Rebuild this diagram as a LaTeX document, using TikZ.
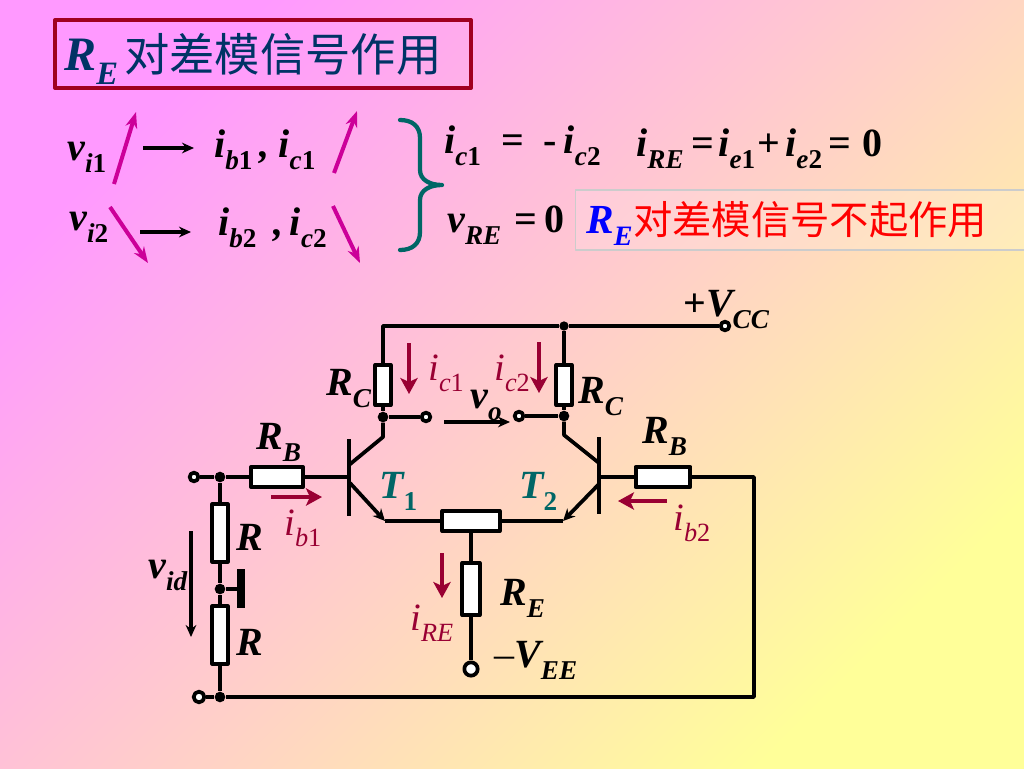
\documentclass[tikz,border=0pt]{standalone}
\usepackage{fontspec}
\usetikzlibrary{arrows.meta}
\setmainfont{Liberation Serif}
\newfontfamily\cjk{Noto Sans CJK SC}
\definecolor{bgtl}{HTML}{FF99FF}
\definecolor{bgbr}{HTML}{FFFF99}
\definecolor{titlered}{HTML}{A00020}
\definecolor{titleblue}{HTML}{003366}
\definecolor{curr}{HTML}{990033}
\definecolor{mag}{HTML}{CC0099}
\definecolor{teal2}{HTML}{006666}
\newcommand{\low}[1]{\raisebox{-.3em}{\scalebox{.68}{#1}}}
\newcommand{\dg}[1]{{\upshape #1}}
\tikzset{
	lab/.style={anchor=base west,inner sep=0pt,font=\fontsize{30}{32}\selectfont\bfseries\itshape},
	thin lab/.style={anchor=base west,inner sep=0pt,text=curr,font=\fontsize{29}{32}\selectfont\itshape},
	wire/.style={line width=2.8pt},
	resh/.style={draw,fill=white,line width=3pt,inner sep=0pt,minimum width=#1,minimum height=15pt},
	resv/.style={draw,fill=white,line width=3pt,inner sep=0pt,minimum width=#1,minimum height=30pt},
	term/.style={circle,draw,fill=white,line width=2.8pt,inner sep=0pt,minimum size=6.5pt},
	dot/.style={circle,fill=black,inner sep=0pt,minimum size=8pt},
	currarrow/.style={-{Stealth[length=12pt,width=13pt,inset=3pt]},color=curr,line width=3pt},
	magarrow/.style={-{Stealth[length=12pt,width=9pt]},color=mag,line width=3pt},
	blackarrow/.style={-{Stealth[length=9pt,width=8pt]},line width=2.5pt},
	emitarrow/.style={-{Stealth[length=9pt,width=8.5pt]},line width=2.8pt}
}
\begin{document}
\begin{tikzpicture}[x=.75pt,y=-.75pt,line join=round]
	\useasboundingbox (0,0) rectangle (1024,768);
	\shade[top color=bgtl,bottom color=bgbr,shading angle=45] (0,0) rectangle (1024,768);
	% title
	\node (titlebox) [draw=titlered,line width=3pt,minimum width=312pt,minimum height=51pt,inner sep=0pt] at (263,54) {};
	\node (titlere) [lab,text=titleblue,font=\fontsize{36}{40}\selectfont\bfseries\itshape] at (64,70) {R\low{E}};
	\node (titlecn) [lab,text=titleblue,font=\fontsize{34}{40}\selectfont\cjk] at (124,71) {对差模信号作用};
	% formulas
	\node (vione) [lab] at (67,160) {v\low{i\dg{1}}};
	\node (vitwo) [lab] at (69,230) {v\low{i\dg{2}}};
	\node (ibone) [lab] at (214,157) {i\low{b\dg{1}}\,,\hspace{7pt}i\low{c\dg{1}}};
	\node (ibtwo) [lab] at (218,235) {i\low{b\dg{2}}\, ,\,i\low{c\dg{2}}};
	\node (iceq) [lab] at (444,153) {i\low{c\dg{1}}\ \ \upshape=\ \ -\hspace{5pt}\itshape i\low{c\dg{2}}};
	\node (iresum) [lab] at (636,156) {i\low{RE}\hspace{6pt}\upshape=\hspace{3pt}\itshape i\low{e\dg{1}}\hspace{1.5pt}\upshape+\hspace{4pt}\itshape i\low{e\dg{2}}\hspace{5pt}\upshape=\hspace{8pt}0};
	\node (vre) [lab] at (447,232) {v\low{RE}\hspace{10pt}\upshape=\hspace{5pt}0};
	\node (nobox) [fill=white,fill opacity=.15,draw=gray!40,line width=1pt,minimum width=337pt,minimum height=45pt,inner sep=0pt] at (800,220) {};
	\node (nore) [lab,text=blue,font=\fontsize{31}{40}\selectfont\bfseries\itshape] at (586,233) {R\low{E}};
	\node (nocn) [lab,text=red,font=\fontsize{29.5}{40}\selectfont\cjk] at (633,234) {对差模信号不起作用};
	\coordinate (mga) at (114,184); \coordinate (mgb) at (136,112);
	\coordinate (mgc) at (110,207); \coordinate (mgd) at (148,263);
	\coordinate (mge) at (334,173); \coordinate (mgf) at (357,111);
	\coordinate (mgg) at (333,206); \coordinate (mgh) at (360,263);
	\foreach \i/\j in {mga/mgb,mgc/mgd,mge/mgf,mgg/mgh} \draw[magarrow] (\i)--(\j);
	\coordinate (bka) at (143,148); \coordinate (bkb) at (194,148);
	\coordinate (bkc) at (140,232); \coordinate (bkd) at (191,232);
	\draw[blackarrow] (bka)--(bkb);
	\draw[blackarrow] (bkc)--(bkd);
	\draw[teal2,line width=3.2pt,line cap=round] (400,120) .. controls (412,120) and (420,126) .. (420,138) -- (420,170) .. controls (420,180) and (430,185) .. (442,185) .. controls (430,185) and (420,190) .. (420,200) -- (420,232) .. controls (420,244) and (412,250) .. (400,250);
	% supply rail and collectors
	\node (vcc) [term] at (725,326) {};
	\node (topdot) [dot,minimum size=7pt] at (564,326) {};
	\coordinate (topleft) at (383,326);
	\node (rcl) [resv=11.5pt] at (383,385) {};
	\node (rcr) [resv=11.5pt] at (564,385) {};
	\node (coldl) [dot] at (383,417) {};
	\node (coldr) [dot] at (564,416) {};
	\node (vol) [term] at (426,417) {};
	\node (vor) [term] at (519,416) {};
	\draw[wire] (vcc)--(topdot)--(topleft)--(rcl)--(coldl);
	\draw[wire] (topdot)--(rcr)--(coldr);
	\draw[wire] (coldl)--(vol);
	\draw[wire] (coldr)--(vor);
	% transistors
	\coordinate (ttop) at (349,439); \coordinate (tbot) at (349,516);
	\coordinate (utop) at (599,437); \coordinate (ubot) at (599,514);
	\coordinate (tc) at (349,465); \coordinate (te) at (350,483);
	\coordinate (uc) at (599,463); \coordinate (ue) at (599,484);
	\coordinate (cl) at (383,437); \coordinate (cr) at (564,435);
	\coordinate (el) at (385,521); \coordinate (er) at (563,521);
	\draw[wire] (ttop)--(tbot);
	\draw[wire] (utop)--(ubot);
	\draw[wire] (coldl)--(cl)--(tc);
	\draw[wire] (coldr)--(cr)--(uc);
	\draw[emitarrow] (te)--(el);
	\draw[emitarrow] (ue)--(er);
	\node (repot) [resh=43pt] at (471,521) {};
	\draw[wire] (el)--(repot);
	\draw[wire] (er)--(repot);
	\node (re) [resv=13pt,minimum height=39pt] at (471,589) {};
	\node (vee) [term,minimum size=10pt] at (471,669) {};
	\draw[wire] (repot)--(re)--(vee);
	% bases and input
	\node (rbl) [resh=39pt] at (277,477) {};
	\node (rbr) [resh=41pt] at (663,477) {};
	\node (intop) [term] at (194,477) {};
	\node (indot) [dot] at (220,477) {};
	\coordinate (tb) at (349,477);
	\coordinate (ub) at (599,477);
	\coordinate (ra) at (754,477); \coordinate (rb) at (754,697);
	\node (inbot) [term,minimum size=8pt] at (199,697) {};
	\node (botdot) [dot] at (220,697) {};
	\node (rin) [resv=11.5pt,minimum height=43pt] at (220,533) {};
	\node (rinb) [resv=11.5pt,minimum height=43pt] at (220,635) {};
	\node (middot) [dot] at (220,589) {};
	\coordinate (gnd) at (241,589);
	\coordinate (gnda) at (241,569); \coordinate (gndb) at (241,608);
	\draw[wire] (intop)--(indot)--(rbl)--(tb);
	\draw[wire] (ub)--(rbr)--(ra)--(rb)--(botdot)--(inbot);
	\draw[wire] (indot)--(rin)--(middot)--(rinb)--(botdot);
	\draw[wire] (middot)--(gnd);
	\draw[line width=6pt] (gnda)--(gndb);
	% arrows in the circuit
	\coordinate (ica) at (409,343); \coordinate (icb) at (409,394);
	\coordinate (icc) at (539,342); \coordinate (icd) at (539,393);
	\coordinate (iba) at (271,497); \coordinate (ibb) at (322,497);
	\coordinate (ibc) at (667,501); \coordinate (ibd) at (618,501);
	\coordinate (ira) at (442,553); \coordinate (irb) at (442,598);
	\foreach \i/\j in {ica/icb,icc/icd,iba/ibb,ibc/ibd,ira/irb} \draw[currarrow] (\i)--(\j);
	\coordinate (voa) at (444,422); \coordinate (vob) at (510,422);
	\coordinate (vida) at (191,531); \coordinate (vidb) at (191,637);
	\draw[blackarrow] (voa)--(vob);
	\draw[blackarrow] (vida)--(vidb);
	% labels
	\node (lvcc) [lab] at (683,316) {\upshape+\itshape V\low{CC}};
	\node (lrcl) [lab] at (326,395) {R\low{C}};
	\node (lrcr) [lab] at (578,403) {R\low{C}};
	\node (lrbl) [lab] at (256,449) {R\low{B}};
	\node (lrbr) [lab] at (642,443) {R\low{B}};
	\node (lic1) [thin lab] at (428,380) {i\low{c\upshape 1}};
	\node (lic2) [thin lab] at (494,380) {i\low{c\upshape 2}};
	\node (lvo) [lab] at (470,408) {v\low{o}};
	\node (lt1) [lab,text=teal2] at (379,498) {T\low{\dg{1}}};
	\node (lt2) [lab,text=teal2] at (519,498) {T\low{\dg{2}}};
	\node (lib1) [thin lab] at (284,535) {i\low{b\upshape 1}};
	\node (lib2) [thin lab] at (673,530) {i\low{b\upshape 2}};
	\node (lr1) [lab] at (236,550) {R};
	\node (lr2) [lab] at (236,655) {R};
	\node (lvid) [lab] at (148,578) {v\low{id}};
	\node (lre) [lab] at (500,605) {R\low{E}};
	\node (lire) [thin lab] at (410,630) {i\low{RE}};
	\node (lvee) [lab] at (494,667) {\mdseries\upshape –\bfseries\itshape V\low{EE}};
\end{tikzpicture}
\end{document}
